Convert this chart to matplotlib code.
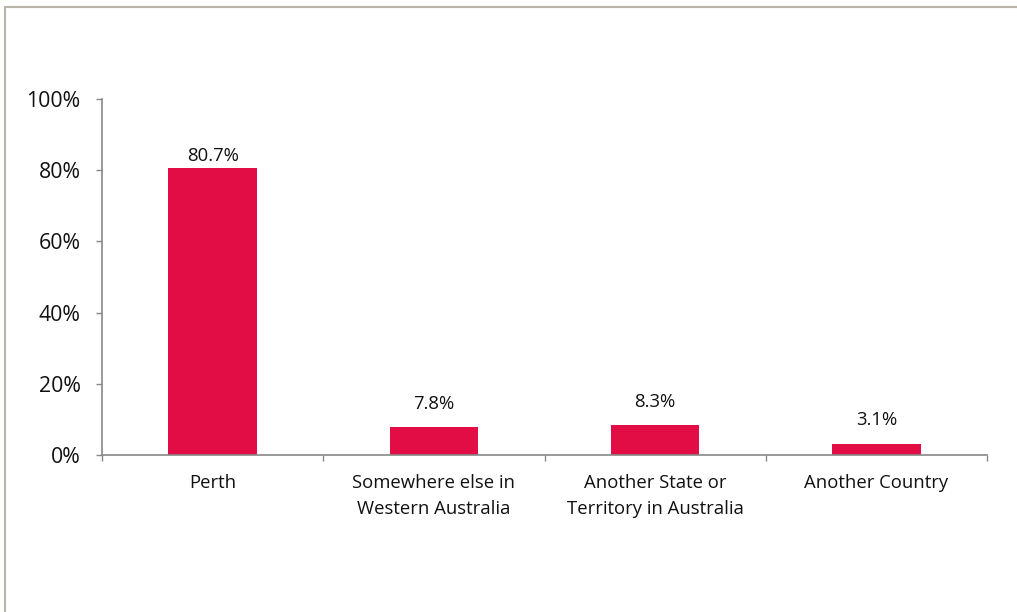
import matplotlib
matplotlib.use("Agg")
import matplotlib.pyplot as plt
from matplotlib.patches import Rectangle
from matplotlib.ticker import FuncFormatter

categories = ["Perth", "Somewhere else in\nWestern Australia",
              "Another State or\nTerritory in Australia", "Another Country"]
values = [80.7, 7.8, 8.3, 3.1]
yticks = [0, 20, 40, 60, 80, 100]

W, H = 1017, 612
fig = plt.figure(figsize=(W / 100, H / 100), dpi=100)
plt.rcParams['font.family'] = ['Open Sans', 'DejaVu Sans']

# outer chart border
fig.add_artist(Rectangle((5 / W, -0.1), 1.2, (H - 7) / H + 0.1, transform=fig.transFigure,
                         fill=False, edgecolor="#B9B6A9", linewidth=1.5))

ax = fig.add_axes([102 / W, 1 - 455 / H, (987 - 102) / W, (455 - 99) / H])
x = range(len(categories))
ax.bar(x, values, width=0.4, color="#E30D45")
for xi, v in zip(x, values):
    ax.text(xi, min(v + 6.6, 83.9), f"{v:.1f}%", ha="center", va="center",
            fontsize=13.3, color="#111111")

ax.set_xlim(-0.5, len(categories) - 0.5)
ax.set_ylim(0, 100)
ax.set_yticks(yticks)
ax.yaxis.set_major_formatter(FuncFormatter(lambda v, p: f"{v:.0f}%"))
ax.tick_params(axis="y", labelsize=15.3, length=4.3, width=1, color="#888888", pad=11, labelcolor="#111111")

ax.set_xticks([i - 0.5 for i in range(len(categories) + 1)], minor=False)
ax.set_xticklabels([])
ax.set_xticks(list(x), minor=True)
ax.set_xticklabels(categories, minor=True, fontsize=13.3, color="#111111", linespacing=1.6)
ax.tick_params(axis="x", which="major", length=4.5, width=1, color="#888888")
ax.tick_params(axis="x", which="minor", length=0, pad=13.5)

for s in ["top", "right"]:
    ax.spines[s].set_visible(False)
for s in ["left", "bottom"]:
    ax.spines[s].set_color("#888888")
    ax.spines[s].set_linewidth(1.2)

fig.savefig("out.png", dpi=100)
